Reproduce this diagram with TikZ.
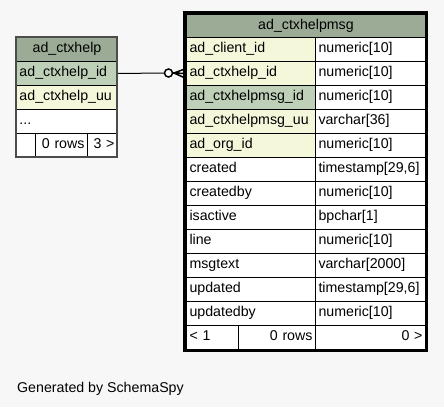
\documentclass[tikz,border=0pt]{standalone}
\usepackage{fontspec}
\setmainfont{Liberation Sans}
\definecolor{bg}{HTML}{F7F7F7}
\definecolor{hdr}{HTML}{9BAB96}
\definecolor{pk}{HTML}{BED1B8}
\definecolor{fk}{HTML}{F4F7DA}
\tikzset{
  cell/.style={draw=black, line width=1pt, anchor=north west, inner xsep=3pt, inner ysep=0pt,
    font=\fontsize{14.2}{16}\selectfont},
}
\newcommand{\mycell}[8]{%
  \pgfmathsetmacro\tw{#4-6}%
  \node[cell, fill=#6, minimum width=#4, minimum height=#5, text width=\tw pt, align=#7] (#1) at (#2,#3) {\strut #8};}
\begin{document}
\begin{tikzpicture}[x=1pt,y=-1pt]
\fill[bg] (0,0) rectangle (444,407);
\useasboundingbox (0,0) rectangle (444,407);
% left table
\mycell{lh}{16}{37}{101}{24}{hdr}{center}{ad\_ctxhelp}
\mycell{lid}{16}{61}{101}{24}{pk}{left}{ad\_ctxhelp\_id}
\mycell{luu}{16}{85}{101}{24}{fk}{left}{ad\_ctxhelp\_uu}
\mycell{ldots}{16}{109}{101}{24}{white}{left}{...}
\mycell{lf1}{16}{133}{19}{24}{white}{left}{}
\mycell{lf2}{35}{133}{52}{24}{white}{right}{0 rows}
\mycell{lf3}{87}{133}{30}{24}{white}{right}{3 >}
\draw[line width=1.5pt, draw=black!70] (16,37) rectangle (117,157);
% right table
\mycell{rh}{186}{14}{239}{23}{hdr}{center}{ad\_ctxhelpmsg}
\mycell{r1}{186}{37}{129}{24}{fk}{left}{ad\_client\_id}
\mycell{t1}{315}{37}{110}{24}{white}{left}{numeric[10]}
\mycell{r2}{186}{61}{129}{24}{fk}{left}{ad\_ctxhelp\_id}
\mycell{t2}{315}{61}{110}{24}{white}{left}{numeric[10]}
\mycell{r3}{186}{85}{129}{24}{pk}{left}{ad\_ctxhelpmsg\_id}
\mycell{t3}{315}{85}{110}{24}{white}{left}{numeric[10]}
\mycell{r4}{186}{109}{129}{24}{fk}{left}{ad\_ctxhelpmsg\_uu}
\mycell{t4}{315}{109}{110}{24}{white}{left}{varchar[36]}
\mycell{r5}{186}{133}{129}{24}{fk}{left}{ad\_org\_id}
\mycell{t5}{315}{133}{110}{24}{white}{left}{numeric[10]}
\mycell{r6}{186}{157}{129}{24}{white}{left}{created}
\mycell{t6}{315}{157}{110}{24}{white}{left}{timestamp[29,6]}
\mycell{r7}{186}{181}{129}{24}{white}{left}{createdby}
\mycell{t7}{315}{181}{110}{24}{white}{left}{numeric[10]}
\mycell{r8}{186}{205}{129}{24}{white}{left}{isactive}
\mycell{t8}{315}{205}{110}{24}{white}{left}{bpchar[1]}
\mycell{r9}{186}{229}{129}{24}{white}{left}{line}
\mycell{t9}{315}{229}{110}{24}{white}{left}{numeric[10]}
\mycell{r10}{186}{253}{129}{24}{white}{left}{msgtext}
\mycell{t10}{315}{253}{110}{24}{white}{left}{varchar[2000]}
\mycell{r11}{186}{277}{129}{24}{white}{left}{updated}
\mycell{t11}{315}{277}{110}{24}{white}{left}{timestamp[29,6]}
\mycell{r12}{186}{301}{129}{24}{white}{left}{updatedby}
\mycell{t12}{315}{301}{110}{24}{white}{left}{numeric[10]}
\mycell{rf1}{186}{325}{52}{24}{white}{left}{< 1}
\mycell{rf2}{238}{325}{77}{24}{white}{right}{0 rows}
\mycell{rf3}{315}{325}{110}{24}{white}{right}{0 >}
\draw[line width=3pt] (184.5,12.5) rectangle (426.5,350.5);
% connector
\node[circle, draw=black, line width=1.5pt, minimum size=8pt, inner sep=0pt, fill=white] (circ) at (168.5,73) {};
\coordinate (crow) at (174,73);
\draw[line width=1pt] (lid.east) -- (circ.west);
\draw[line width=1.5pt] (circ.east) -- (crow);
\draw[line width=1.5pt] (crow) -- ([yshift=-5]r2.west) (crow) -- (r2.west) (crow) -- ([yshift=5]r2.west);
\node[anchor=base west, inner sep=0pt, font=\fontsize{14.2}{16}\selectfont] (gen) at (17,392) {Generated by SchemaSpy};
\end{tikzpicture}
\end{document}
